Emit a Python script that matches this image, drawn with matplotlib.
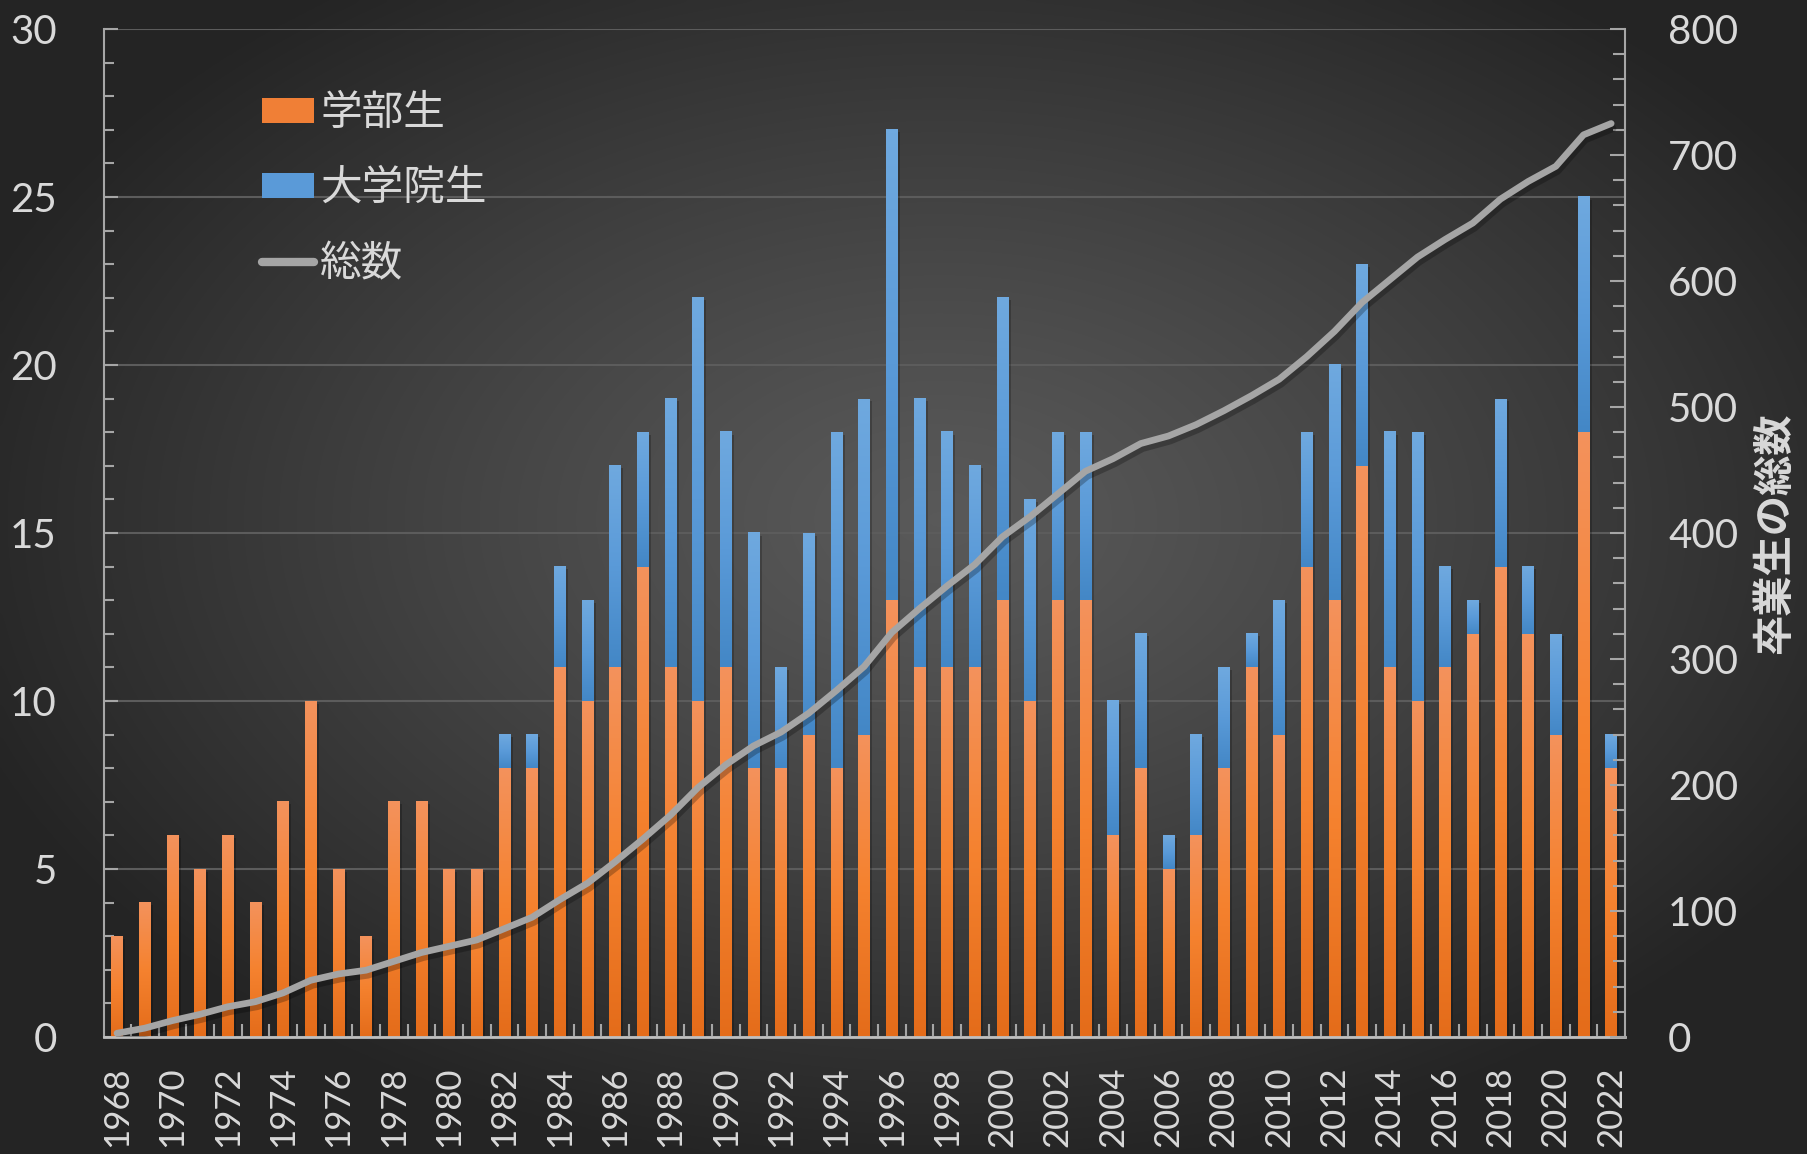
import numpy as np
import matplotlib.pyplot as plt
from matplotlib.colors import LinearSegmentedColormap
from matplotlib.patches import Patch
from matplotlib.lines import Line2D

plt.rcParams['font.family'] = ['Lato', 'Noto Sans CJK JP', 'DejaVu Sans']

# data
years = list(range(1968, 2023))
undergrad = [3, 4, 6, 5, 6, 4, 7, 10, 5, 3,
             7, 7, 5, 5, 8, 8, 11, 10, 11, 14,
             11, 10, 11, 8, 8, 9, 8, 9, 13, 11,
             11, 11, 13, 10, 13, 13, 6, 8, 5, 6,
             8, 11, 9, 14, 13, 17, 11, 10, 11, 12,
             14, 12, 9, 18, 8]
graduate = [0, 0, 0, 0, 0, 0, 0, 0, 0, 0,
            0, 0, 0, 0, 1, 1, 3, 3, 6, 4,
            8, 12, 7, 7, 3, 6, 10, 10, 14, 8,
            7, 6, 9, 6, 5, 5, 4, 4, 1, 3,
            3, 1, 4, 4, 7, 6, 7, 8, 3, 1,
            5, 2, 3, 7, 1]
total_cum = [3, 7, 13, 18, 24, 28, 35, 45, 50, 53,
             60, 67, 72, 77, 86, 95, 109, 122, 139, 157,
             176, 198, 216, 231, 242, 257, 275, 294, 321, 340,
             358, 375, 397, 413, 431, 449, 459, 471, 477, 486,
             497, 509, 522, 540, 560, 583, 601, 619, 633, 646,
             665, 679, 691, 716, 725]

labels = ['学部生', '大学院生', '総数']
right_label = '卒業生の総数'

txt_color = '#d9d9d9'
axis_color = '#a6a6a6'
orange_cmap = LinearSegmentedColormap.from_list(
    'org', ['#e46c1a', '#f5822f', '#f3925c'])
blue_cmap = LinearSegmentedColormap.from_list(
    'blu', ['#4387c6', '#5a9ad8', '#6fa9df'])

fig = plt.figure(figsize=(18.07, 11.54), dpi=100)

# background radial gradient
bg = fig.add_axes([0, 0, 1, 1], zorder=-10)
gx, gy = np.meshgrid(np.linspace(0, 1, 400), np.linspace(0, 1, 260))
r = np.sqrt(((gx - 0.52) / 0.75) ** 2 + ((gy - 0.45) / 0.75) ** 2)
r = np.clip(r / 0.75, 0, 1)
shade = 0.35 - (0.35 - 0.145) * r ** 1.2
bg.imshow(np.dstack([shade, shade, shade]), aspect='auto',
          extent=(0, 1, 0, 1), origin='upper', interpolation='bicubic')
bg.axis('off')

ax = fig.add_axes([104 / 1807, 1 - 1037 / 1154,
                   (1625 - 104) / 1807, (1037 - 29) / 1154])
ax.set_facecolor('none')

x = np.arange(len(years))
w = 0.42
totals = np.array(undergrad) + np.array(graduate)

# soft shadows
ax.bar(x + 0.09, totals, w, bottom=-0.08, color='black', alpha=0.22,
       zorder=1, linewidth=0)

b1 = ax.bar(x, undergrad, w, color='none', linewidth=0, zorder=2)
b2 = ax.bar(x, graduate, w, bottom=undergrad, color='none', linewidth=0,
            zorder=2)

grad = np.linspace(1, 0, 128).reshape(-1, 1)
for bars, cm in ((b1, orange_cmap), (b2, blue_cmap)):
    for p in bars:
        h = p.get_height()
        if h <= 0:
            continue
        x0, y0 = p.get_x(), p.get_y()
        ax.imshow(grad, cmap=cm, aspect='auto', origin='upper',
                  extent=(x0, x0 + p.get_width(), y0, y0 + h), zorder=2,
                  interpolation='bilinear')

ax.set_xlim(-0.47, len(years) - 0.5)
ax.set_ylim(0, 30)
ax.set_yticks(np.arange(0, 31, 5))
ax.set_yticks(np.arange(0, 31, 1), minor=True)
ax.yaxis.grid(True, which='major', color='#5c5c5c', linewidth=1.5)
ax.set_axisbelow(True)

ax.set_xticks(x)
ax.set_xticklabels([str(y) if (y - 1968) % 2 == 0 else '' for y in years],
                   rotation=90)
ax.set_xticks(x[:-1] + 0.5, minor=True)
ax.tick_params(axis='x', which='major', direction='in', length=6.5,
               width=1.5, color='#c8c8c8', pad=21, labelsize=25,
               labelcolor=txt_color)
ax.tick_params(axis='x', which='minor', direction='in', length=9.5,
               width=1.5, color=axis_color)
ax.tick_params(axis='y', which='major', direction='in', length=10,
               width=1.5, color=axis_color, pad=34, labelsize=29,
               labelcolor=txt_color)
ax.tick_params(axis='y', which='minor', direction='in', length=7.5,
               width=1.5, color=axis_color)
for s in ('top', 'right'):
    ax.spines[s].set_visible(False)
ax.spines['left'].set_color(axis_color)
ax.spines['bottom'].set_color('#bfbfbf')
ax.spines['left'].set_linewidth(1.5)
ax.spines['bottom'].set_linewidth(2)

# cumulative line
ax2 = ax.twinx()
ax2.plot(x + 0.07, np.array(total_cum) - 4, color='black', alpha=0.25,
         linewidth=4.8, solid_capstyle='round', solid_joinstyle='round',
         zorder=3)
ax2.plot(x, total_cum, color='#a5a5a5', linewidth=4.8,
         solid_capstyle='round', solid_joinstyle='round', zorder=4)
ax2.set_ylim(0, 800)
ax2.set_yticks(np.arange(0, 801, 100))
ax2.set_yticks(np.arange(0, 801, 20), minor=True)
ax2.tick_params(axis='y', which='major', direction='in', length=10.5,
                width=1.5, color=axis_color, pad=31, labelsize=29,
                labelcolor=txt_color)
ax2.tick_params(axis='y', which='minor', direction='in', length=8.5,
                width=1.5, color=axis_color)
for s in ('top', 'left', 'bottom'):
    ax2.spines[s].set_visible(False)
ax2.spines['right'].set_color(axis_color)
ax2.spines['right'].set_linewidth(1.5)
ax2.set_ylabel(right_label, fontsize=29, fontweight='bold',
               color=txt_color, family=['Noto Sans CJK JP'])
ax2.yaxis.set_label_coords((1775 - 104) / 1521, 0.5)
ax2.yaxis.label.set_va('center')
ax2.yaxis.label.set_rotation_mode('anchor')

handles = [Patch(facecolor='#f07f36', edgecolor='none'),
           Patch(facecolor='#5a9ad8', edgecolor='none'),
           Line2D([], [], color='#a5a5a5', linewidth=6,
                  solid_capstyle='round')]
leg = ax.legend(handles, labels, loc='upper left',
                bbox_to_anchor=((262 - 104) / 1521, 1 - (94 - 29) / 1008),
                frameon=False, fontsize=30, handlelength=1.25,
                handleheight=0.58, handletextpad=0.15, labelspacing=0.88,
                borderpad=0, borderaxespad=0)
for t in leg.get_texts():
    t.set_color(txt_color)

plt.savefig('out.png', dpi=100)
